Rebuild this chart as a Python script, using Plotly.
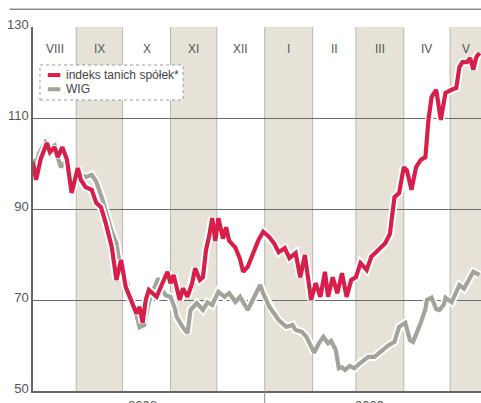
import plotly.graph_objects as go
import pandas as pd

# ---------------- data ----------------
months = ["VIII", "IX", "X", "XI", "XII", "I", "II", "III", "IV", "V"]
month_starts = ["2008-08-01", "2008-09-01", "2008-10-01", "2008-11-01", "2008-12-01",
                "2009-01-01", "2009-02-01", "2009-03-01", "2009-04-01", "2009-05-01",
                "2009-06-01"]
month_shaded = [False, True, False, True, False, True, False, True, False, True]
years = ["2008", "2009"]

tanie_dates = [
    "2008-08-04", "2008-08-06", "2008-08-09", "2008-08-13", "2008-08-15", "2008-08-18",
    "2008-08-20", "2008-08-23", "2008-08-26", "2008-08-28", "2008-08-29",
    "2008-09-02", "2008-09-04", "2008-09-07", "2008-09-11", "2008-09-14", "2008-09-17",
    "2008-09-20", "2008-09-24", "2008-09-27", "2008-09-30",
    "2008-10-03", "2008-10-06", "2008-10-10", "2008-10-12", "2008-10-14", "2008-10-16",
    "2008-10-18", "2008-10-23", "2008-10-27", "2008-10-30",
    "2008-11-01", "2008-11-03", "2008-11-07", "2008-11-09", "2008-11-12", "2008-11-15",
    "2008-11-17", "2008-11-20", "2008-11-22", "2008-11-24", "2008-11-26", "2008-11-28",
    "2008-11-30",
    "2008-12-02", "2008-12-05", "2008-12-07", "2008-12-09", "2008-12-13", "2008-12-16",
    "2008-12-18", "2008-12-21", "2008-12-24", "2008-12-28", "2008-12-31",
    "2009-01-04", "2009-01-07", "2009-01-10", "2009-01-14", "2009-01-17", "2009-01-21",
    "2009-01-24", "2009-01-27", "2009-01-31",
    "2009-02-03", "2009-02-06", "2009-02-09", "2009-02-11", "2009-02-14", "2009-02-17",
    "2009-02-20", "2009-02-23", "2009-02-26",
    "2009-03-01", "2009-03-04", "2009-03-08", "2009-03-11", "2009-03-16", "2009-03-20",
    "2009-03-23", "2009-03-26", "2009-03-29",
    "2009-04-01", "2009-04-03", "2009-04-06", "2009-04-09", "2009-04-12", "2009-04-15",
    "2009-04-17", "2009-04-19", "2009-04-22", "2009-04-25", "2009-04-28",
    "2009-05-02", "2009-05-05", "2009-05-07", "2009-05-09", "2009-05-12", "2009-05-14",
    "2009-05-16", "2009-05-18", "2009-05-20",
]
tanie_values = [
    100.3, 96.4, 101, 104.5, 102.5, 103.6, 101.4, 103.6, 100.8, 95.7, 93.5,
    99, 96.4, 94.8, 94.2, 91.3, 90.4, 87, 81.6, 74.4, 78.8,
    72.9, 70.5, 67, 68.5, 65, 70, 72.2, 70.7, 74, 76.2,
    73.7, 75.5, 70, 72.6, 70.7, 73.7, 77, 74.4, 75, 81, 84, 88, 83,
    88, 83.5, 86, 83, 81.5, 79, 76.2, 77.3, 80, 83.2, 85,
    83.8, 82.5, 80.5, 81.4, 79.2, 80.3, 75, 79.9, 70,
    73.7, 70.7, 76.2, 70.7, 75, 71.5, 75.9, 70.7, 74.4,
    75, 78.1, 76.6, 79.5, 81, 82.5, 84.5, 92.6, 93.5,
    99.2, 98.5, 94.2, 99.2, 100.8, 101.4, 109.6, 114.6, 116.2, 109.6, 115.5,
    116.2, 116.6, 121.2, 122.3, 122.3, 123.2, 120.6, 123.4, 124.3,
]

wig_dates = [
    "2008-08-04", "2008-08-06", "2008-08-08", "2008-08-12", "2008-08-15", "2008-08-18",
    "2008-08-19", "2008-08-22", "2008-08-26", "2008-08-28", "2008-08-29",
    "2008-09-02", "2008-09-04", "2008-09-07", "2008-09-11", "2008-09-14", "2008-09-18",
    "2008-09-22", "2008-09-24", "2008-09-27", "2008-09-30",
    "2008-10-04", "2008-10-06", "2008-10-09", "2008-10-12", "2008-10-15", "2008-10-17",
    "2008-10-20", "2008-10-22", "2008-10-24", "2008-10-27", "2008-10-29",
    "2008-11-01", "2008-11-04", "2008-11-05", "2008-11-09", "2008-11-12", "2008-11-14",
    "2008-11-18", "2008-11-22", "2008-11-25", "2008-11-28",
    "2008-12-02", "2008-12-06", "2008-12-09", "2008-12-13", "2008-12-16", "2008-12-21",
    "2008-12-25", "2008-12-29", "2008-12-31",
    "2009-01-04", "2009-01-07", "2009-01-10", "2009-01-15", "2009-01-19", "2009-01-21",
    "2009-01-25", "2009-01-28", "2009-01-31",
    "2009-02-02", "2009-02-05", "2009-02-08", "2009-02-11", "2009-02-13", "2009-02-16",
    "2009-02-18", "2009-02-20", "2009-02-22", "2009-02-25", "2009-02-28",
    "2009-03-04", "2009-03-09", "2009-03-13", "2009-03-18", "2009-03-22", "2009-03-26",
    "2009-03-29",
    "2009-04-02", "2009-04-05", "2009-04-07", "2009-04-10", "2009-04-12", "2009-04-15",
    "2009-04-16", "2009-04-19", "2009-04-22", "2009-04-24", "2009-04-27", "2009-04-28",
    "2009-05-02", "2009-05-04", "2009-05-07", "2009-05-10", "2009-05-13", "2009-05-16",
    "2009-05-20",
]
wig_values = [
    100.8, 100, 102.3, 104.7, 103.5, 104, 102.5, 99.2, 101, 96, 94,
    98, 97.5, 97, 97.5, 96, 92, 87, 85, 82.5, 76,
    74, 70, 68, 64, 64.5, 68, 72, 73, 74.8, 72, 71,
    70.7, 68, 66.3, 64, 62.7, 67.8, 69.3, 67.8, 69.5, 68.9,
    71.8, 70.7, 71.5, 69.6, 70.7, 67.8, 70.7, 73.3, 71.5,
    68.5, 67.1, 65.6, 64.1, 64.5, 63.4, 63, 61.9, 60,
    58.4, 60.5, 61.9, 60.5, 61, 59, 55, 55.2, 54.6, 55.5, 55,
    56.2, 57.5, 57.5, 59, 60, 60.8, 64.1,
    65, 61.2, 60.8, 63, 65, 68, 70, 70.5, 68, 67.8, 69, 70.5,
    69.5, 71, 73.3, 72.5, 74.4, 76.2, 75.5,
]

# ---------------- style ----------------
FONT = "Liberation Sans, Arial, sans-serif"
RED = "#d6204b"
GREY = "#a3a39b"
BAND = "#e6e2d8"
TXT = "#555555"
X_RANGE = ["2008-08-04", "2009-05-21"]
Y_RANGE = [50, 130]

fig = go.Figure()

for dates, vals, col, name in [(wig_dates, wig_values, GREY, "WIG"),
                               (tanie_dates, tanie_values, RED, "indeks tanich spółek*")]:
    fig.add_trace(go.Scatter(x=dates, y=vals, mode="lines", showlegend=False,
                             line=dict(color="white", width=8), hoverinfo="skip"))
    fig.add_trace(go.Scatter(x=dates, y=vals, mode="lines", name=name, showlegend=False,
                             line=dict(color=col, width=4.2)))

shapes = []
annotations = []
r0 = pd.Timestamp(X_RANGE[0])
r1 = pd.Timestamp(X_RANGE[1])
for i, m in enumerate(months):
    s = pd.Timestamp(month_starts[i])
    e = pd.Timestamp(month_starts[i + 1])
    if month_shaded[i]:
        shapes.append(dict(type="rect", xref="x", yref="paper", x0=s, x1=e, y0=0, y1=1,
                           fillcolor=BAND, line=dict(width=0), layer="below"))
    if i > 0:
        shapes.append(dict(type="line", xref="x", yref="paper", x0=s, x1=s, y0=0, y1=1,
                           line=dict(color="#b9b7b0", width=1), layer="below"))
    a = max(s, r0)
    b = min(e, r1)
    mid = a + (b - a) / 2
    annotations.append(dict(x=mid, y=0.965, xref="x", yref="paper", text=m,
                            showarrow=False, font=dict(family=FONT, size=12, color=TXT)))

# year separator tick below axis and year labels
shapes.append(dict(type="line", xref="x", yref="paper", x0="2009-01-01", x1="2009-01-01",
                   y0=0, y1=-0.05, line=dict(color="#888888", width=1)))
for yr, xpos in zip(years, ["2008-10-14", "2009-03-10"]):
    annotations.append(dict(x=xpos, y=-0.014, xref="x", yref="paper", text=yr,
                            showarrow=False, yanchor="top",
                            font=dict(family=FONT, size=13, color=TXT)))

# top rule above chart
shapes.append(dict(type="line", xref="paper", yref="paper", x0=-0.052, x1=1.0,
                   y0=1.049, y1=1.049, line=dict(color="#8a8a8a", width=1.5)))

# manual legend
shapes.append(dict(type="rect", xref="paper", yref="paper", x0=0.0156, x1=0.335,
                   y0=0.7995, y1=0.8956, fillcolor="white",
                   line=dict(color="#999999", width=1, dash="dot"), layer="above"))
legend_items = [("indeks tanich spółek*", RED, 0.868), ("WIG", GREY, 0.829)]
for label, col, yy in legend_items:
    shapes.append(dict(type="line", xref="paper", yref="paper", x0=0.033, x1=0.061,
                       y0=yy, y1=yy, line=dict(color=col, width=4), layer="above"))
    annotations.append(dict(x=0.069, y=yy, xref="paper", yref="paper", text=label,
                            showarrow=False, xanchor="left", yanchor="middle",
                            font=dict(family=FONT, size=12, color="#444444")))

fig.update_layout(
    width=481, height=403,
    margin=dict(l=33, r=0, t=27, b=12),
    paper_bgcolor="white", plot_bgcolor="white",
    shapes=shapes, annotations=annotations,
    showlegend=False,
    xaxis=dict(type="date", range=X_RANGE, showgrid=False, showticklabels=False,
               ticks="", zeroline=False, showline=True, linecolor="#666666", linewidth=1.5),
    yaxis=dict(range=Y_RANGE, tickvals=[50, 70, 90, 110, 130], showgrid=True,
               gridcolor="#6a6a6a", gridwidth=1, zeroline=False, showline=True,
               linecolor="#666666", linewidth=1.5, ticks="", ticklabelshift=-3,
               tickfont=dict(family=FONT, size=13, color=TXT)),
)

fig.write_html("out.html")
